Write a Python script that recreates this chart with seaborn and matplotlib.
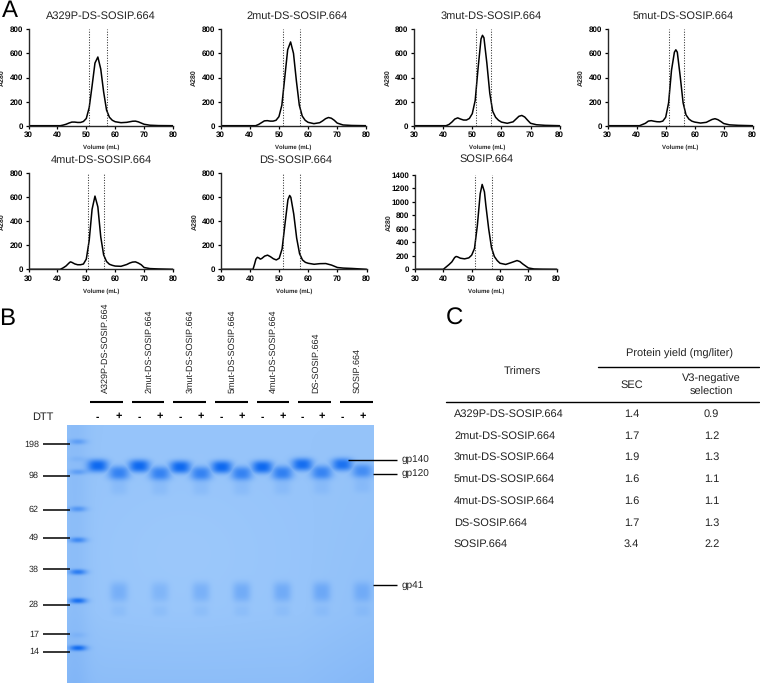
import numpy as np
import matplotlib
matplotlib.use("Agg")
import matplotlib.pyplot as plt
import seaborn as sns

sns.set_theme(style="ticks")
plt.rcParams['font.family'] = ['Liberation Sans', 'DejaVu Sans']
plt.rcParams['text.hinting'] = 'none'
plt.rcParams['text.hinting_factor'] = 1

names = ["A329P-DS-SOSIP.664", "2mut-DS-SOSIP.664", "3mut-DS-SOSIP.664", "5mut-DS-SOSIP.664",
         "4mut-DS-SOSIP.664", "DS-SOSIP.664", "SOSIP.664"]
sec_yield = ["1.4", "1.7", "1.9", "1.6", "1.6", "1.7", "3.4"]
v3_yield = ["0.9", "1.2", "1.3", "1.1", "1.1", "1.3", "2.2"]

v1 = [30,41,42,43,44,45,46,47,48,49,50,51,52,53,54,55,56,57,58,59,60,62,64,66,67,68,70,72,75,80]
a1 = [0,0,5,12,22,30,30,27,27,35,60,150,330,520,570,470,280,130,70,45,33,25,28,37,38,32,12,4,1,0]
v2 = [30,42,43,44,45,46,47,48,49,50,51,52,53,54,55,56,57,58,59,60,62,64,65,66,67,68,69,70,72,75,80]
a2 = [0,0,10,25,40,42,38,38,45,75,170,400,630,695,600,370,170,80,45,28,17,25,40,58,68,62,45,22,6,2,0]
v3 = [30,41,42,43,44,45,46,47,48,49,50,51,52,53,53.5,54,55,56,57,58,59,60,62,64,65,66,67,68,69,70,72,75,80]
a3 = [0,0,10,30,55,65,55,47,47,60,100,210,480,720,750,730,520,270,120,70,45,30,20,32,55,78,85,72,45,20,8,3,0]
v5 = [30,41,42,43,44,45,46,47,48,49,50,51,52,53,53.5,54,55,56,57,58,59,60,62,64,65,66,67,68,69,70,72,75,80]
a5 = [0,0,10,20,38,42,37,33,32,38,70,190,460,610,630,610,410,190,90,55,38,30,22,28,40,52,58,50,35,18,7,3,0]
v4 = [30,41,42,43,44,44.5,45,46,47,48,49,50,51,52,53,54,55,56,57,58,59,60,62,64,65,66,67,68,69,70,72,75,80]
a4 = [0,0,12,28,52,62,58,45,38,38,44,85,240,500,610,520,270,120,65,42,33,27,25,40,52,60,62,52,38,15,6,3,0]
v6 = [30,41,41.5,42,42.5,43,43.5,44,45,46,47,48,49,50,51,52,53,53.6,54,55,56,57,58,59,60,62,64,66,68,70,72,75,80]
a6 = [0,0,40,85,100,95,85,90,110,118,105,88,78,92,170,380,580,615,600,460,260,130,78,58,50,42,47,48,35,15,10,7,0]
v7 = [30,40,41,42,43,44,44.5,45,46,47.5,49,50,51,52,53,53.7,54.5,55,56,57,58,59,60,62,64,66,67,68,70,72,75,80]
a7 = [0,0,35,70,110,175,190,185,165,155,170,210,310,650,1120,1260,1150,950,600,320,190,130,90,72,100,130,115,80,20,5,2,0]

volumes = [v1, v2, v3, v5, v4, v6, v7]
signals = [a1, a2, a3, a5, a4, a6, a7]
gate_low = [51.0, 51.4, 51.4, 51.2, 50.7, 51.4, 51.3]
gate_high = [57.2, 57.3, 56.3, 56.3, 56.2, 57.3, 57.3]
y_tops = [800, 800, 800, 800, 800, 800, 1400]
y_steps = [200, 200, 200, 200, 200, 200, 200]
x_ticks = [30, 40, 50, 60, 70, 80]

# pixel boxes: left, right, top, bottom
boxes = [(28.5, 173, 29.3, 125.7), (220.7, 366.3, 29.3, 125.7), (414, 559.7, 29.3, 125.7), (607.7, 752.7, 29.3, 125.7),
         (28.5, 173, 173.3, 269.3), (221, 366.5, 173.3, 269.3), (415, 556.7, 175, 269.3)]
title_shift = [0, 4, 4, 2.6, 1, 2, 1]

W, H = 760, 684
fig = plt.figure(figsize=(W/100, H/100), dpi=100, facecolor="white")

# overlay in pixel coordinates
ov = fig.add_axes([0, 0, 1, 1])
ov.set_xlim(0, W); ov.set_ylim(H, 0); ov.axis("off")

for i, (l, r, t, b) in enumerate(boxes):
    ax = fig.add_axes([l/W, 1-b/H, (r-l)/W, (b-t)/H], facecolor="none")
    sns.lineplot(x=volumes[i], y=signals[i], ax=ax, color="black", lw=1.1, errorbar=None)
    for g in (gate_low[i], gate_high[i]):
        ax.plot([g, g], [0, y_tops[i]], color="#333333", lw=0.75, ls=(0, (1, 1.5)))
    ax.set_xlim(30, 80); ax.set_ylim(0, y_tops[i])
    ax.set_xticks(x_ticks)
    ax.set_yticks(np.arange(0, y_tops[i]+1, y_steps[i]))
    ax.tick_params(length=2.5, width=0.9, pad=1.5, labelsize=5.5, colors="black")
    for lab in ax.get_xticklabels()+ax.get_yticklabels():
        lab.set_fontweight("bold")
    for s in ("top", "right"):
        ax.spines[s].set_visible(False)
    for s in ("left", "bottom"):
        ax.spines[s].set_linewidth(1.0)
    ax.set_xlabel("Volume (mL)", fontsize=4.6, fontweight="bold")
    ax.set_ylabel("A280", fontsize=5.0, fontweight="bold")
    ax.xaxis.set_label_coords(0.5, -19/(b-t), transform=ax.transAxes)
    ax.yaxis.set_label_coords(-23/(r-l), 0.5, transform=ax.transAxes)
    ov.text((l+r)/2+title_shift[i], t-13.5 if i < 6 else t-15.5, names[i], ha="center", va="center", fontsize=7.95, color="#222222")

for s, x, y, fs in [("A", 9.5, 10.5, 17), ("B", 7.5, 318.5, 17), ("C", 454, 319, 17)]:
    ov.text(x, y, s, ha="center", va="center", fontsize=fs, color="black")

# ---- gel image
minus_x = [97.7, 139.3, 180.3, 221.7, 262.3, 302.3, 342.3]
plus_x = [119, 160, 201, 241.7, 282.3, 321.7, 362.3]
minus_y = [465.7, 466, 467, 467, 467, 464.5, 464.5]
plus_y = [473, 473.5, 473.5, 473.5, 473, 472.5, 471]
gp140_level = [1.0, 1.0, 1.0, 1.0, 1.0, 0.95, 0.9]
gp120_level = [0.72, 0.72, 0.72, 0.72, 0.75, 0.7, 0.6]
gp41_level = [0.24, 0.18, 0.23, 0.28, 0.28, 0.3, 0.25]
ladder_y = [441.7, 459, 472, 509, 540, 572, 600.7, 635, 648]
ladder_level = [0.35, 0.1, 0.35, 0.45, 0.6, 0.75, 0.9, 0.1, 0.95]

gx0, gx1, gy0, gy1 = 67, 374, 425, 683
X, Y = np.meshgrid(np.arange(gx0, gx1)+0.5, np.arange(gy0, gy1)+0.5)

def blob(cx, cy, sx, sy, p=3.0):
    return np.exp(-np.abs((X-cx)/sx)**p-np.abs((Y-cy)/sy)**p)

band = np.zeros_like(X)
for i in range(7):
    band = np.maximum(band, gp140_level[i]*blob(minus_x[i], minus_y[i], 10.5, 6.3, 2.6))
    band = np.maximum(band, gp120_level[i]*blob(plus_x[i], plus_y[i], 10.5, 7.0, 2.6))
    band += 0.1*blob(plus_x[i], plus_y[i]+15, 8.5, 7)
    band += gp41_level[i]*blob(plus_x[i], 592, 9, 10)
    band += 0.08*blob(plus_x[i], 611, 8, 5.5)
for y, lv in zip(ladder_y, ladder_level):
    band += lv*blob(78, y, 8.5, 2.8, 2.2)
band = np.clip(band, 0, 1)

u = (X-gx0)/(gx1-gx0); v = (Y-gy0)/(gy1-gy0)
# soft background: lighter centre, darker lower edge and ladder lane
dark = 0.12*np.clip(v-0.72, 0, 1)/0.28 + 0.10*np.clip(u-0.75, 0, 1)/0.25*v + 0.14*np.exp(-((X-gx0-8)/14)**2) - 0.07*np.exp(-((u-0.38)/0.3)**2-((v-0.5)/0.3)**2)
base = np.array([150, 196, 250.0])
shade = np.array([85, 150, 240.0])
deep = np.array([14, 105, 240.0])
img = base[None, None, :]*(1-np.clip(dark, -1, 1)[..., None]*1.2)+shade[None, None, :]*(np.clip(dark, -1, 1)[..., None]*1.2)
img = img*(1-band[..., None])+deep[None, None, :]*band[..., None]
ov.imshow(np.clip(img, 0, 255).astype(np.uint8), extent=(gx0, gx1, gy1, gy0), aspect="auto", interpolation="bilinear", zorder=1)
ov.set_xlim(0, W); ov.set_ylim(H, 0)

lane_label_x = [106, 148.7, 190, 232.7, 273, 315.7, 356.7]
bar_left = [90, 131.7, 173.3, 215, 256.7, 298.3, 340]
for i in range(7):
    ov.text(lane_label_x[i], 393, names[i], rotation=90, ha="center", va="bottom", fontsize=6.2, color="#222222")
    ov.plot([bar_left[i], bar_left[i]+32.7], [401.7, 401.7], color="black", lw=1.5, solid_capstyle="butt")
    ov.text(minus_x[i], 417, "-", ha="center", va="center", fontsize=7.5, fontweight="bold", color="black")
    ov.text(plus_x[i], 416.5, "+", ha="center", va="center", fontsize=8, fontweight="bold", color="black")
ov.text(32.5, 417, "DTT", ha="left", va="center", fontsize=7.7, color="#222222")

mw_labels = ["198", "98", "62", "49", "38", "28", "17", "14"]
mw_y = [444.3, 476, 510, 537.7, 569.3, 605, 634.3, 651.7]
for s, y in zip(mw_labels, mw_y):
    ov.text(39, y, s, ha="right", va="center", fontsize=6.7, color="#222222")
    ov.plot([43.3, 70], [y, y], color="black", lw=1.1, solid_capstyle="butt", zorder=3)

for s, x0, y in [("gp140", 347.7, 460), ("gp120", 372.7, 473.7), ("gp41", 372.7, 585.3)]:
    ov.plot([x0, 396.7], [y, y], color="black", lw=1.0, solid_capstyle="butt", zorder=3)
    ov.text(401.7, y+0.5, s, ha="left", va="center", fontsize=6.9, color="#222222")

# ---- table
tfs = 7.95
row_y = [414, 435.7, 457, 479, 501, 522.7, 544]
for i in range(7):
    ov.text(454, row_y[i], names[i], ha="left", va="center", fontsize=tfs, color="#222222")
    ov.text(631.7, row_y[i], sec_yield[i], ha="center", va="center", fontsize=tfs, color="#222222")
    ov.text(711.7, row_y[i], v3_yield[i], ha="center", va="center", fontsize=tfs, color="#222222")
ov.text(522.7, 371.7, "Trimers", ha="center", va="center", fontsize=tfs, color="#222222")
ov.text(679, 354, "Protein yield (mg/liter)", ha="center", va="center", fontsize=tfs, color="#222222")
ov.text(631.7, 385, "SEC", ha="center", va="center", fontsize=tfs, color="#222222")
ov.text(711.7, 379, "V3-negative", ha="center", va="center", fontsize=tfs, color="#222222")
ov.text(711.7, 391.7, "selection", ha="center", va="center", fontsize=tfs, color="#222222")
ov.plot([598, 759], [367, 367], color="black", lw=1.0)
ov.plot([446, 759], [402, 402], color="black", lw=1.0)

fig.savefig("out.png", dpi=100)
